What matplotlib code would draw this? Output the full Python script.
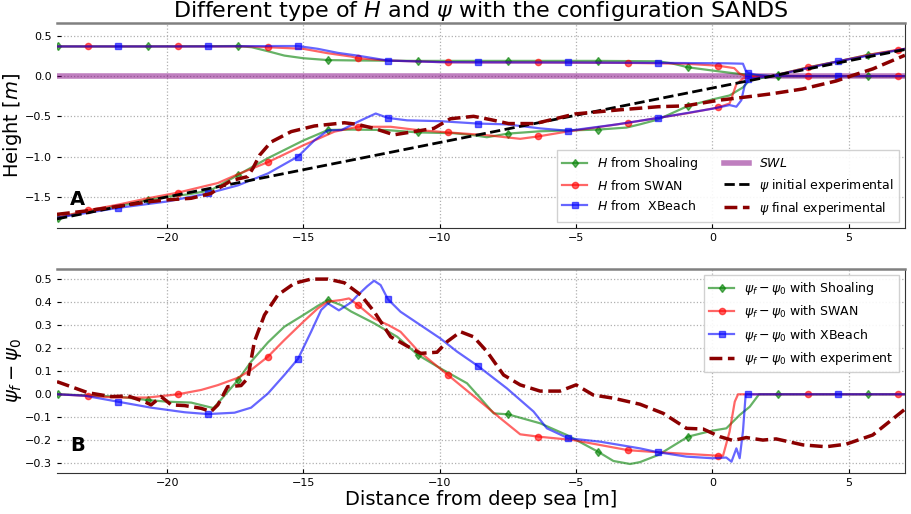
import numpy as np
import matplotlib
matplotlib.use("Agg")
import matplotlib.pyplot as plt

# ---------------- data ----------------
x_limits = (-24.04, 7.06)

marker_x_shoaling = [-24.01, -20.71, -17.40, -14.10, -10.80, -7.50, -4.19, -0.89, 2.41, 5.72]
marker_x_swan = [-22.91, -19.61, -16.30, -13.00, -9.70, -6.39, -3.09, 0.21, 3.52, 6.82]
marker_x_xbeach = [-21.81, -18.51, -15.20, -11.90, -8.60, -5.29, -1.99, 1.31, 4.62]

# Panel A : wave height envelopes (upper) and final profiles (lower)
shoal_up_x = [-24.01, -20.71, -17.40, -16.9, -16.3, -15.7, -15.0, -14.10, -13.0, -10.80, -7.50, -4.19,
              -2.0, -1.5, -0.89, 0.0, 0.76, 1.37, 2.16, 2.41, 5.72, 7.06]
shoal_up_y = [0.37, 0.37, 0.375, 0.36, 0.31, 0.256, 0.223, 0.20, 0.195, 0.19, 0.19, 0.19,
              0.185, 0.16, 0.11, 0.07, 0.037, 0.016, 0.0, 0.0, 0.0, 0.0]
shoal_lo_x = [-24.01, -22.91, -21.81, -20.71, -20.0, -19.2, -18.4, -17.40, -16.3, -15.0, -14.10, -13.25,
              -12.0, -10.80, -9.5, -8.76, -8.27, -7.50, -6.32, -4.19, -3.15, -2.66, -2.0, -0.89, 0.0,
              0.63, 1.12, 1.37, 2.16, 2.41, 3.52, 4.62, 5.72, 7.06]
shoal_lo_y = [-1.76, -1.68, -1.62, -1.54, -1.50, -1.47, -1.42, -1.23, -1.02, -0.80, -0.67, -0.665,
              -0.67, -0.70, -0.71, -0.735, -0.76, -0.715, -0.686, -0.665, -0.64, -0.60, -0.54, -0.37, -0.29,
              -0.24, -0.14, -0.05, 0.0, 0.02, 0.11, 0.185, 0.265, 0.335]

swan_up_x = [-24.01, -22.91, -19.61, -17.0, -16.30, -15.0, -14.1, -13.25, -13.00, -11.90, -10.0, -9.70,
             -6.39, -3.09, -1.0, 0.21, 0.8, 1.0, 1.24, 3.52, 6.82, 7.06]
swan_up_y = [0.37, 0.37, 0.37, 0.37, 0.36, 0.34, 0.285, 0.244, 0.223, 0.194, 0.175, 0.172,
             0.17, 0.165, 0.155, 0.13, 0.10, 0.03, 0.0, 0.0, 0.0, 0.0]
swan_lo_x = [-24.01, -22.91, -21.81, -20.71, -19.61, -18.14, -17.40, -16.30, -15.0, -13.86, -13.00, -11.8,
             -10.83, -9.70, -8.27, -7.05, -6.39, -5.34, -4.19, -3.09, -2.0, -0.89, 0.21, 0.63, 0.88,
             1.12, 1.49, 2.16, 3.52, 4.62, 5.72, 6.82, 7.06]
swan_lo_y = [-1.76, -1.67, -1.60, -1.52, -1.45, -1.33, -1.22, -1.07, -0.86, -0.69, -0.63, -0.63,
             -0.67, -0.70, -0.735, -0.78, -0.75, -0.69, -0.635, -0.58, -0.52, -0.46, -0.39, -0.34, -0.10,
             -0.03, -0.01, 0.0, 0.11, 0.185, 0.265, 0.33, 0.34]

xb_up_x = [-24.01, -21.81, -18.51, -16.0, -15.20, -14.47, -13.74, -13.02, -11.90, -10.0, -8.60, -5.29,
           -1.99, 0.5, 1.12, 1.22, 1.31, 1.6, 2.16, 4.62, 7.06]
xb_up_y = [0.37, 0.37, 0.37, 0.375, 0.375, 0.34, 0.29, 0.256, 0.194, 0.175, 0.172, 0.17,
           0.165, 0.16, 0.155, 0.07, 0.04, 0.017, 0.0, 0.0, 0.0]
xb_lo_x = [-24.01, -21.81, -20.0, -18.51, -17.41, -16.3, -15.20, -14.6, -14.1, -13.6, -13.02, -12.35,
           -11.90, -11.2, -10.0, -8.60, -7.54, -6.32, -5.29, -3.5, -1.99, 0.0, 0.63, 0.88, 1.06, 1.18,
           1.31, 2.16, 4.62, 7.06]
xb_lo_y = [-1.76, -1.64, -1.56, -1.46, -1.36, -1.21, -1.00, -0.80, -0.675, -0.67, -0.57, -0.465,
           -0.52, -0.55, -0.56, -0.59, -0.60, -0.65, -0.68, -0.60, -0.52, -0.405, -0.36, -0.38, -0.30, -0.12,
           -0.03, 0.0, 0.185, 0.34]

swl_x = [-24.04, 7.06]
swl_y = [0.0, 0.0]

psi0_x = [-24.04, 7.06]
psi0_y = [-1.777, 0.331]

psif_x = [-24.04, -23.03, -21.81, -20.59, -20.0, -19.12, -18.39, -18.14, -17.65, -17.04, -16.86, -16.6,
          -16.19, -15.45, -14.6, -13.5, -13.02, -12.41, -11.68, -10.95, -10.22, -9.61, -8.76, -8.15,
          -7.48, -6.5, -5.03, -3.44, -1.97, -1.0, 0.23, 1.46, 2.16, 3.3, 4.54, 5.15, 5.88, 7.06]
psif_y = [-1.72, -1.68, -1.62, -1.56, -1.54, -1.52, -1.46, -1.40, -1.30, -1.25, -1.15, -0.98,
          -0.82, -0.69, -0.62, -0.58, -0.60, -0.65, -0.73, -0.69, -0.65, -0.53, -0.50, -0.54,
          -0.59, -0.59, -0.47, -0.42, -0.38, -0.37, -0.30, -0.25, -0.22, -0.16, -0.06, 0.01, 0.09, 0.26]

# Panel B : psi_f - psi_0
d_shoal_x = [-24.01, -21.81, -20.71, -20.0, -19.12, -18.30, -17.40, -16.92, -16.30, -15.70, -15.0, -14.47,
             -14.10, -13.62, -13.25, -12.41, -11.56, -10.80, -9.98, -9.0, -8.51, -8.02, -7.50, -6.32,
             -5.34, -4.19, -3.63, -3.02, -2.66, -1.99, -0.89, 0.0, 0.51, 1.0, 1.37, 1.71, 2.41, 5.72, 7.06]
d_shoal_y = [0.0, -0.01, -0.025, -0.032, -0.036, -0.06, 0.062, 0.142, 0.226, 0.294, 0.345, 0.385,
             0.41, 0.388, 0.36, 0.309, 0.25, 0.171, 0.113, 0.048, -0.017, -0.083, -0.087, -0.126,
             -0.177, -0.25, -0.29, -0.303, -0.295, -0.264, -0.184, -0.158, -0.148, -0.09, -0.054, 0.0, 0.0, 0.0, 0.0]

d_swan_x = [-24.01, -22.91, -21.81, -20.71, -19.61, -18.75, -18.14, -17.40, -16.92, -16.30, -15.70, -15.0,
            -14.47, -14.10, -13.62, -13.33, -13.00, -12.41, -11.87, -11.44, -10.83, -9.70, -8.51, -7.78,
            -7.05, -6.39, -5.10, -3.09, -1.99, -0.95, 0.21, 0.39, 0.63, 0.82, 0.94, 3.52, 6.82, 7.06]
d_swan_y = [0.0, -0.007, -0.014, -0.014, 0.0, 0.019, 0.04, 0.072, 0.106, 0.164, 0.236, 0.316,
            0.374, 0.403, 0.41, 0.417, 0.388, 0.33, 0.30, 0.272, 0.193, 0.084, -0.032, -0.104,
            -0.174, -0.184, -0.199, -0.243, -0.252, -0.259, -0.267, -0.267, -0.162, -0.032, 0.0, 0.0, 0.0, 0.0]

d_xb_x = [-24.01, -23.03, -21.81, -20.59, -19.36, -18.51, -17.53, -16.92, -16.30, -15.70, -15.20, -14.72,
          -14.35, -14.10, -13.70, -13.25, -13.02, -12.66, -12.41, -12.17, -11.90, -11.44, -10.71, -9.98,
          -9.37, -8.60, -7.54, -6.56, -6.07, -5.29, -4.12, -2.66, -1.99, -0.95, 0.0, 0.51, 0.70, 0.88,
          1.0, 1.12, 1.22, 1.31, 4.62, 7.06]
d_xb_y = [0.0, -0.006, -0.032, -0.058, -0.078, -0.086, -0.08, -0.058, 0.004, 0.084, 0.154, 0.272,
          0.367, 0.395, 0.365, 0.40, 0.43, 0.47, 0.494, 0.475, 0.413, 0.359, 0.301, 0.243,
          0.186, 0.123, 0.026, -0.075, -0.148, -0.191, -0.206, -0.235, -0.252, -0.271, -0.278, -0.275, -0.293, -0.235,
          -0.278, -0.162, 0.0, 0.0, 0.0, 0.0]

d_exp_x = [-24.04, -23.52, -22.91, -22.05, -21.44, -20.83, -20.59, -20.22, -19.85, -19.36, -18.75, -18.39,
           -18.14, -17.78, -17.29, -17.04, -16.80, -16.43, -15.94, -15.33, -14.72, -14.10, -13.50, -12.90,
           -12.41, -11.80, -11.20, -10.71, -10.10, -9.73, -9.24, -8.76, -8.27, -7.66, -7.05, -6.32, -5.59,
           -5.00, -4.37, -3.63, -2.66, -1.80, -0.95, -0.34, 0.27, 0.76, 1.24, 1.85, 2.34, 3.32, 4.17, 4.90,
           5.88, 7.06]
d_exp_y = [0.055, 0.033, 0.007, -0.01, -0.007, -0.032, -0.046, -0.01, -0.046, -0.049, -0.061, -0.075,
           -0.046, 0.033, 0.038, 0.07, 0.229, 0.345, 0.432, 0.483, 0.501, 0.501, 0.485, 0.432,
           0.36, 0.25, 0.21, 0.178, 0.183, 0.229, 0.272, 0.25, 0.186, 0.084, 0.041, 0.014, 0.014,
           0.041, -0.003, -0.017, -0.043, -0.083, -0.148, -0.151, -0.184, -0.201, -0.188, -0.199, -0.194, -0.22, -0.228, -0.217,
           -0.177, -0.065]

xticks = [-20, -15, -10, -5, 0, 5]
yticks_a = [0.5, 0.0, -0.5, -1.0, -1.5]
yticks_b = [0.5, 0.4, 0.3, 0.2, 0.1, 0.0, -0.1, -0.2, -0.3]


def mark_idx(xs, mx):
    xs = np.asarray(xs)
    return [int(i) for i in range(len(xs)) if np.any(np.isclose(xs[i], mx, atol=1e-6))]


# ---------------- figure ----------------
plt.rcParams['font.family'] = ['DejaVu Sans']
plt.rcParams['mathtext.fontset'] = 'dejavusans'
fig = plt.figure(figsize=(9.12, 5.14), dpi=100)
axA = fig.add_axes([0.0625, 0.5564, 0.9297, 0.3986])
axB = fig.add_axes([0.0625, 0.0803, 0.9297, 0.3964])

G = dict(color='green', alpha=0.6, lw=1.6, marker='d', ms=4.5)
R = dict(color='red', alpha=0.6, lw=1.6, marker='o', ms=4.5)
Bc = dict(color='blue', alpha=0.6, lw=1.6, marker='s', ms=4.5)

# Panel A
axA.plot(swl_x, swl_y, color='purple', alpha=0.5, lw=4, label='$SWL$', zorder=2)
axA.plot(shoal_up_x, shoal_up_y, markevery=mark_idx(shoal_up_x, marker_x_shoaling), label='$H$ from Shoaling', **G)
axA.plot(shoal_lo_x, shoal_lo_y, markevery=mark_idx(shoal_lo_x, marker_x_shoaling), **G)
axA.plot(swan_up_x, swan_up_y, markevery=mark_idx(swan_up_x, marker_x_swan), label='$H$ from SWAN', **R)
axA.plot(swan_lo_x, swan_lo_y, markevery=mark_idx(swan_lo_x, marker_x_swan), **R)
axA.plot(xb_up_x, xb_up_y, markevery=mark_idx(xb_up_x, marker_x_xbeach), label='$H$ from  XBeach', **Bc)
axA.plot(xb_lo_x, xb_lo_y, markevery=mark_idx(xb_lo_x, marker_x_xbeach), **Bc)
axA.plot(psi0_x, psi0_y, 'k--', lw=2, label=r'$\psi$ initial experimental')
axA.plot(psif_x, psif_y, '--', color='darkred', lw=2.5, label=r'$\psi$ final experimental')

hA, lA = axA.get_legend_handles_labels()
order = [1, 2, 3, 0, 4, 5]
axA.legend([hA[i] for i in order], [lA[i] for i in order], loc='lower right', ncol=2,
           fontsize=9, fancybox=False, framealpha=0.9, edgecolor='#cccccc')

# Panel B
axB.plot(d_shoal_x, d_shoal_y, markevery=mark_idx(d_shoal_x, marker_x_shoaling),
         label=r'$\psi_f - \psi_0$ with Shoaling', **G)
axB.plot(d_swan_x, d_swan_y, markevery=mark_idx(d_swan_x, marker_x_swan),
         label=r'$\psi_f - \psi_0$ with SWAN', **R)
axB.plot(d_xb_x, d_xb_y, markevery=mark_idx(d_xb_x, marker_x_xbeach),
         label=r'$\psi_f - \psi_0$ with XBeach', **Bc)
axB.plot(d_exp_x, d_exp_y, '--', color='darkred', lw=2.5, label=r'$\psi_f - \psi_0$ with experiment')
axB.legend(loc='upper right', fontsize=9, fancybox=False, framealpha=0.9, edgecolor='#cccccc')

for ax, yt, ylim in ((axA, yticks_a, (-1.89, 0.66)), (axB, yticks_b, (-0.341, 0.545))):
    ax.set_xlim(*x_limits)
    ax.set_ylim(*ylim)
    ax.set_xticks(xticks)
    ax.set_yticks(yt)
    ax.grid(True, linestyle=':', color='#b0b0b0', lw=0.9)
    ax.tick_params(direction='in', labelsize=8, length=3)
    ax.spines['left'].set_visible(False)
    ax.spines['top'].set_color('#808080')
    ax.spines['top'].set_linewidth(1.8)
    ax.spines['bottom'].set_color('#333333')
    ax.spines['right'].set_color('#333333')
    ax.set_axisbelow(True)

axA.set_ylabel('Height [$m$]', fontsize=14, labelpad=1)
axB.set_ylabel(r'$\psi_f - \psi_0$', fontsize=14, labelpad=1)
axB.set_xlabel('Distance from deep sea [m]', fontsize=14, labelpad=2)
axA.set_title(r'Different type of $H$ and $\psi$ with the configuration SANDS', fontsize=16, pad=3)

axA.text(0.024, 0.137, 'A', transform=axA.transAxes, fontsize=14, fontweight='bold', ha='center', va='center')
axB.text(0.024, 0.133, 'B', transform=axB.transAxes, fontsize=14, fontweight='bold', ha='center', va='center')

fig.savefig('out.png', dpi=100)
